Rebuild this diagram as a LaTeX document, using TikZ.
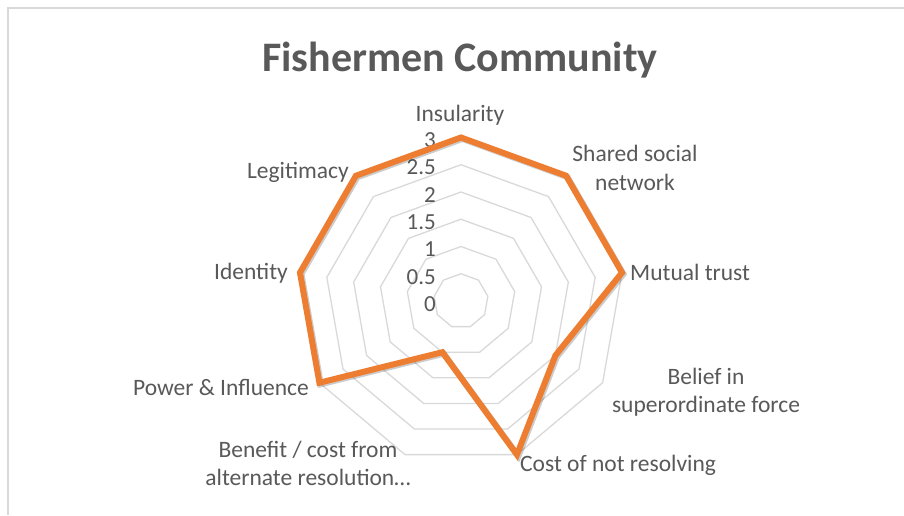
\documentclass[tikz,border=0pt]{standalone}
\usepackage{fontspec}
\setmainfont{Carlito}
\definecolor{txtgray}{HTML}{595959}
\definecolor{ringgray}{HTML}{D9D9D9}
\definecolor{lineorange}{HTML}{ED7D31}
\begin{document}
\begin{tikzpicture}[x=1pt, y=1pt,
  ring/.style={ringgray, line width=1.3pt},
  lbl/.style={txtgray, font=\fontsize{23.5}{28.5}\selectfont, inner sep=0pt, align=center},
  ticklbl/.style={txtgray, font=\fontsize{23}{27}\selectfont, inner sep=0pt, anchor=east}]
\useasboundingbox (0,0) rectangle (904,515);
\fill[white] (0,0) rectangle (904,515);
\draw[ringgray, line width=1.5pt] (8,0) -- (8,507) -- (904,507);
\node[txtgray, font=\bfseries\fontsize{42}{50}\selectfont, anchor=base, inner sep=0pt] (Title) at (460,443) {Fishermen Community};
\begin{scope}[shift={(461,214)}]
% rings
\foreach \r in {1,...,6}
  \draw[ring] (90:\r*27.25) \foreach \k in {1,...,8} { -- (90-40*\k:\r*27.25)} -- cycle;
% scale
\foreach \t [count=\i from 0] in {0,0.5,1,1.5,2,2.5,3}
  \node[ticklbl] (T\i) at (-25,\i*27.3-3) {\t};
% data
\foreach \v [count=\k from 0] in {3,3,3,2,3,1,3,3,3}
  \coordinate (P\k) at (90-40*\k:\v*54.5);
\end{scope}
\draw[black, opacity=0.2, line width=6pt, transform canvas={shift={(1.5,-1.5)}}] (P0) -- (P1) -- (P2) -- (P3) -- (P4) -- (P5) -- (P6) -- (P7) -- (P8) -- cycle;
\draw[lineorange, line width=6pt] (P0) -- (P1) -- (P2) -- (P3) -- (P4) -- (P5) -- (P6) -- (P7) -- (P8) -- cycle;
% axis labels
\node[lbl, anchor=base] (Insularity) at (460,393.3) {Insularity};
\node[lbl] (Shared) at (635,347) {Shared social\\network};
\node[lbl, anchor=base west] (Trust) at (630,234.5) {Mutual trust};
\node[lbl] (Belief) at (706,123) {Belief in\\superordinate force};
\node[lbl, anchor=base west] (Cost) at (520,43.3) {Cost of not resolving};
\node[lbl] (Benefit) at (308,51.5) {Benefit / cost from\\alternate resolution…};
\node[lbl, anchor=base east] (Power) at (309,120) {Power \& Influence};
\node[lbl, anchor=base east] (Identity) at (288,235.7) {Identity};
\node[lbl, anchor=base east] (Legitimacy) at (349,336.7) {Legitimacy};
\end{tikzpicture}
\end{document}
